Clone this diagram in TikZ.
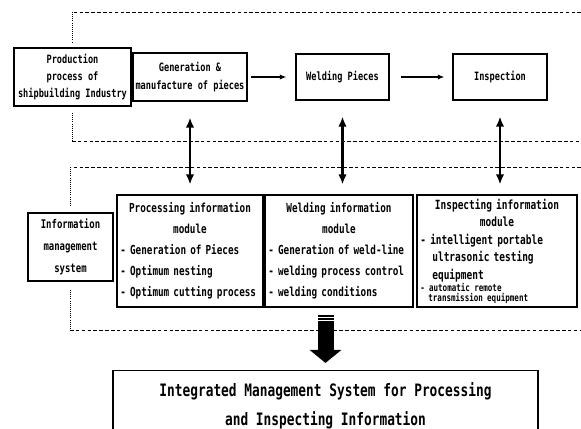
\documentclass[tikz,border=0pt]{standalone}
\usepackage{fontspec}
\setmainfont{DejaVu Sans Mono}[FakeStretch=0.75]
\usetikzlibrary{arrows.meta, positioning}

\begin{document}
\begin{tikzpicture}[x=0.03cm, y=-0.03cm,
 box/.style={draw, line width=0.9pt, align=center, inner sep=0pt,
   font=\bfseries\fontsize{9.8}{14.5}\selectfont},
 module/.style={draw, line width=0.9pt, inner sep=0.1cm, align=left,
   minimum height=3.36cm,
   font=\bfseries\fontsize{10.6}{18}\selectfont},
 frame/.style={densely dashed, line width=0.6pt},
 side/.style={densely dotted, line width=0.8pt},
 flow/.style={line width=1.4pt, -{Latex[length=0.2cm,width=0.16cm]}},
 link/.style={line width=2.4pt, {Latex[length=0.3cm,width=0.25cm]}-{Latex[length=0.3cm,width=0.25cm]}},
 bigarrow/.style={line width=0.48cm, -{Triangle[length=0.39cm,width=0.93cm]}}]
 \useasboundingbox (0,0) rectangle (581,429);
 \clip (0,0) rectangle (581,429);

 % production process
 \node[box, minimum width=3.51cm, minimum height=1.74cm](prod) at (72.5,77)
   {Production\\process of\\shipbuilding Industry};
 \node[box, minimum width=3.42cm, minimum height=1.44cm, font=\bfseries\fontsize{9.8}{16}\selectfont](gen) at (190,77)
   {Generation \&\\manufacture of pieces};
 \node[box, minimum width=2.79cm, minimum height=1.38cm](weld) at (342.5,77) {Welding Pieces};
 \node[box, minimum width=2.82cm, minimum height=1.38cm](insp) at (500,77) {Inspection};

 % information management
 \node[box, minimum width=2.55cm, minimum height=2.04cm,
   font=\bfseries\fontsize{10.2}{19}\selectfont](info) at (70.5,247)
   {Information\\management\\system};
 \node[module, text width=4.18cm](proc) at (190,251)
   {\hfill Processing information\hfill\null\\
    \hfill module\hfill\null\\
    - Generation of Pieces\\- Optimum nesting\\- Optimum cutting process};
 \node[module, text width=4.24cm](weldinfo) at (339,251)
   {\hfill Welding information\hfill\null\\
    \hfill module\hfill\null\\
    - Generation of weld-line\\- welding process control\\- welding conditions};
 \node[module, text width=4.6cm,
   font=\bfseries\fontsize{10.8}{15}\selectfont](inspinfo) at (497,251)
   {\hfill Inspecting information\hfill\null\\
    \hfill module\hfill\null\\
    - intelligent portable\\\hspace*{0.95em}ultrasonic testing\\
    \hspace*{0.95em}equipment\\[-5pt]
    {\fontsize{8.6}{7}\selectfont - automatic remote}\\[-6.5pt]
    {\fontsize{8.6}{7}\selectfont\hspace*{0.8em}transmission equipment}};

 % integrated system
 \node[box, minimum width=12.75cm, minimum height=2.13cm,
   font=\bfseries\fontsize{14.6}{24.7}\selectfont](sys) at (325.5,406)
   {Integrated Management System for Processing\\and Inspecting Information};

 % dashed frames
 \draw[frame] (581,12) -- (72,12) (72,141) -- (581,141);
 \draw[side] (72,12) -- (72,42) (72,113) -- (72,141);
 \draw[frame] (581,167) -- (70,167) (70,330) -- (581,330);
 \draw[side] (70,167) -- (70,205) (70,290) -- (70,330);

 % process flow
 \draw[flow, shorten <=0.09cm, shorten >=0.27cm] (gen) -- (weld);
 \draw[flow, shorten <=0.33cm, shorten >=0.24cm] (weld) -- (insp);

 \foreach \s/\t in {gen/proc, weld/weldinfo, insp/inspinfo}{
    \draw[link, shorten <=0.48cm, shorten >=0.3cm] (\s.south) -- (\s.south |- \t.north);}

 % result arrow
 \coordinate (bt) at ([yshift=-0.21cm]sys.north |- weldinfo.south);
 \draw[bigarrow, shorten >=0.21cm] (bt) -- (sys.north);
 \foreach \d in {3,6}{
    \draw[white, line width=0.7pt] ([shift={(-9,\d)}]bt) -- ([shift={(9,\d)}]bt);}
\end{tikzpicture}
\end{document}
